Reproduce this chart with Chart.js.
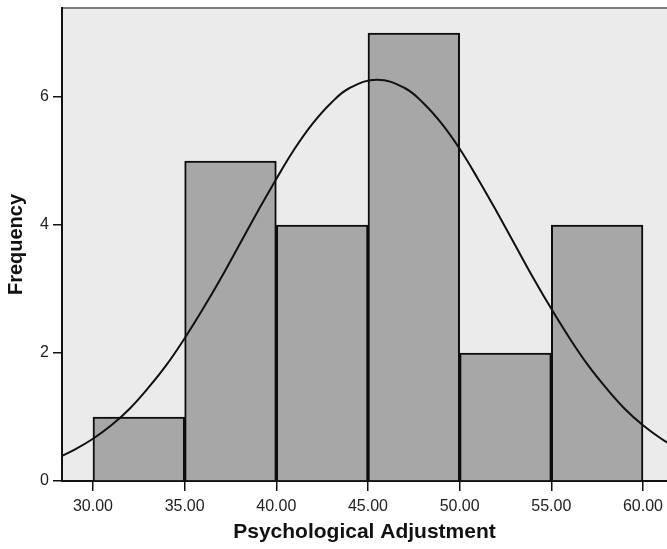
<!DOCTYPE html>
<html>
<head>
<meta charset="utf-8">
<script src="https://cdn.jsdelivr.net/npm/chart.js@4"></script>
<style>
  html, body { margin: 0; padding: 0; background: #fff; }
  #wrap { width: 667px; height: 549px; }
</style>
</head>
<body>
<div id="wrap"><canvas id="chart" width="667" height="549"></canvas></div>
<script>
// histogram bins (lower edges) and counts
const binStarts = [30, 35, 40, 45, 50, 55];
const binWidth = 5;
const counts = [1, 5, 4, 7, 2, 4];

// normal curve
const curveX = [28, 29, 30, 31, 32, 33, 34, 35, 36, 37, 38, 39, 40, 41, 42, 43, 44, 45.5, 47, 48, 49, 50, 51, 52, 53, 54, 55, 56, 57, 58, 59, 60, 61, 62];
const curveY = [0.35, 0.49, 0.66, 0.87, 1.13, 1.45, 1.81, 2.23, 2.69, 3.18, 3.70, 4.22, 4.72, 5.19, 5.59, 5.91, 6.14, 6.27, 6.14, 5.91, 5.59, 5.19, 4.72, 4.22, 3.70, 3.18, 2.69, 2.23, 1.81, 1.45, 1.13, 0.87, 0.66, 0.49];

const xTicks = [30, 35, 40, 45, 50, 55, 60];
const yTicks = [0, 2, 4, 6];

const font = "'Liberation Sans', Arial, sans-serif";

const plotBg = {
  id: "plotBg",
  beforeDraw(chart) {
    const { ctx, chartArea: a } = chart;
    ctx.save();
    ctx.fillStyle = "#ebebeb";
    ctx.fillRect(a.left, a.top, a.right - a.left, a.bottom - a.top);
    ctx.strokeStyle = "#555";
    ctx.lineWidth = 1.5;
    ctx.beginPath();
    ctx.moveTo(a.left, a.top);
    ctx.lineTo(a.right, a.top);
    ctx.stroke();
    ctx.restore();
  }
};

new Chart(document.getElementById("chart"), {
  data: {
    datasets: [
      {
        type: "line",
        data: curveX.map((x, i) => ({ x: x, y: curveY[i] })),
        borderColor: "#111",
        borderWidth: 2,
        pointRadius: 0,
        tension: 0.4,
        fill: false,
        order: 0
      },
      {
        type: "bar",
        data: binStarts.map((s, i) => ({ x: s + binWidth / 2, y: counts[i] })),
        backgroundColor: "#a7a7a7",
        borderColor: "#0d0d0d",
        borderWidth: 2,
        barPercentage: 1,
        categoryPercentage: 1,
        order: 1
      }
    ]
  },
  options: {
    responsive: false,
    animation: false,
    layout: { padding: { top: 8, right: 0, left: 0, bottom: 0 } },
    plugins: { legend: { display: false }, tooltip: { enabled: false } },
    scales: {
      x: {
        type: "linear",
        offset: false,
        min: 28.31,
        max: 61.31,
        afterBuildTicks: (axis) => { axis.ticks = xTicks.map(v => ({ value: v })); },
        afterFit: (axis) => { axis.height = 68; axis.paddingLeft = 0; axis.paddingRight = 0; },
        ticks: {
          color: "#222",
          font: { family: font, size: 16 },
          padding: 6,
          maxRotation: 0,
          callback: (v) => Number(v).toFixed(2)
        },
        grid: { drawOnChartArea: false, offset: false, tickLength: 10, color: "#111", lineWidth: 1.5 },
        border: { color: "#111", width: 2 },
        title: {
          display: true,
          text: "Psychological Adjustment",
          color: "#111",
          font: { family: font, size: 21, weight: "bold" },
          padding: { top: 0 }
        }
      },
      y: {
        min: 0,
        max: 7.39,
        afterBuildTicks: (axis) => { axis.ticks = yTicks.map(v => ({ value: v })); },
        afterFit: (axis) => { axis.width = 62; axis.paddingTop = 0; axis.paddingBottom = 0; },
        ticks: {
          color: "#222",
          font: { family: font, size: 16 },
          padding: 4
        },
        grid: { drawOnChartArea: false, tickLength: 9, color: "#111", lineWidth: 1.5 },
        border: { color: "#111", width: 2 },
        title: {
          display: true,
          text: "Frequency",
          color: "#111",
          font: { family: font, size: 20, weight: "bold" },
          padding: { bottom: 0 }
        }
      }
    }
  },
  plugins: [plotBg]
});
</script>
</body>
</html>
